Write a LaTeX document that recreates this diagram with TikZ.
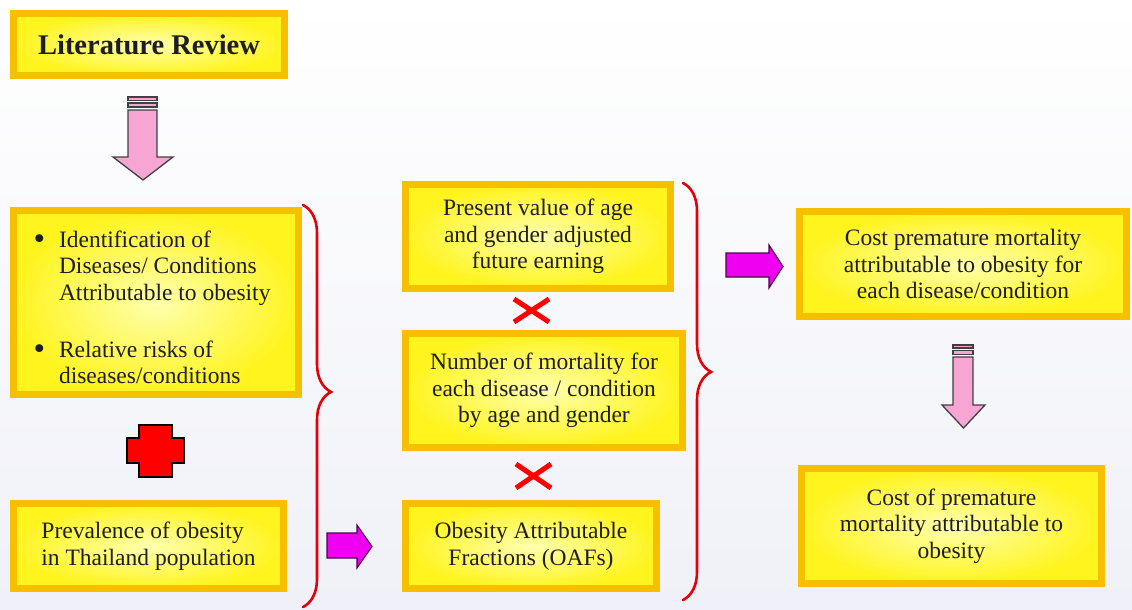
\documentclass[tikz,border=0pt]{standalone}
\usepackage{fontspec}
\setmainfont{Liberation Serif}
\usetikzlibrary{decorations.pathreplacing}
\definecolor{boxgold}{RGB}{246,192,0}
\definecolor{boxyellow}{RGB}{255,244,30}
\definecolor{boxlight}{RGB}{255,255,175}
\definecolor{arrowpink}{RGB}{247,166,212}
\definecolor{arrowmagenta}{RGB}{240,0,240}
\definecolor{braceRed}{RGB}{226,0,10}
\definecolor{textdark}{RGB}{30,30,30}
\definecolor{bgbottom}{RGB}{240,241,248}
\tikzset{every picture/.style={line width=0.9pt}}
\tikzset{
  yelbox/.style={draw=boxgold, line width=7pt, inner color=boxlight, outer color=boxyellow,
    text=textdark, inner sep=0pt, align=center, font=\fontsize{23.5}{26.7}\selectfont},
  pinkarrow/.style={draw=black!75, fill=arrowpink, line width=1.3pt},
  magarrow/.style={draw=violet!60!black, fill=arrowmagenta, line width=1.1pt},
  crossmark/.style={draw=red, line width=5pt},
  redbrace/.style={draw=braceRed, line width=2.6pt, line cap=round, decorate,
    decoration={brace, amplitude=28pt}}
}

\begin{document}
\begin{tikzpicture}[x=1pt,y=1pt,yscale=-1]
\useasboundingbox (0,0) rectangle (1132,610);
% Background
\shade[top color=white, bottom color=bgbottom] (0,0) rectangle (1132,610);

% Text Node
\node[yelbox, minimum width=271, minimum height=62, font=\fontsize{28.5}{32}\selectfont\bfseries] (litrev) at (149,44.5) {Literature Review};
% Text Node
\node[yelbox, minimum width=285, minimum height=184] (ident) at (156,302.5) {\begin{tabular}{@{}l@{\hspace{14pt}}l@{\hspace{8pt}}}
\rule{0pt}{34pt}\raisebox{-2pt}{\scalebox{1.4}{\textbullet}} & Identification of\\
 & Diseases/ Conditions\\
 & Attributable to obesity\\[30pt]
\raisebox{-2pt}{\scalebox{1.4}{\textbullet}} & Relative risks of\\
 & diseases/conditions
\end{tabular}};
% Text Node
\node[yelbox, minimum width=270, minimum height=85, align=left] (preval) at (148.5,546) {Prevalence of obesity\\in Thailand population};
% Text Node
\node[yelbox, minimum width=265, minimum height=104] (presval) at (538,236.5) {Present value of age\\and gender adjusted\\future earning};
% Text Node
\node[yelbox, minimum width=277, minimum height=114] (mortnum) at (544,390.5) {Number of mortality for\\each disease / condition\\by age and gender};
% Text Node
\node[yelbox, minimum width=251, minimum height=85] (oafs) at (531,546) {Obesity Attributable\\Fractions (OAFs)};
% Text Node
\node[yelbox, minimum width=327, minimum height=105] (costeach) at (963,264) {Cost premature mortality\\attributable to obesity for\\each disease/condition};
% Text Node
\node[yelbox, minimum width=300, minimum height=115] (costall) at (951.5,526) {Cost of premature\\mortality attributable to\\obesity};

%Shape: Down Arrow
\draw[pinkarrow] (128,110) -- (157,110) -- (157,157) -- (173,157) -- (143,180) -- (113,157) -- (128,157) -- cycle;
\draw[pinkarrow] (128,97) rectangle (157,100.5);
\draw[pinkarrow] (128,103) rectangle (157,107);
%Shape: Down Arrow
\draw[pinkarrow] (953,357) -- (973,357) -- (973,405) -- (985,405) -- (963.5,428) -- (942,405) -- (953,405) -- cycle;
\draw[pinkarrow] (953,345) rectangle (973,348);
\draw[pinkarrow] (953,350.5) rectangle (973,354.5);

%Shape: Right Arrow
\draw[magarrow] (726,253) -- (769,253) -- (769,245) -- (783,266.5) -- (769,288) -- (769,277) -- (726,277) -- cycle;
%Shape: Right Arrow
\draw[magarrow] (327,533) -- (357,533) -- (357,525) -- (372,546.5) -- (357,568) -- (357,558) -- (327,558) -- cycle;

%Shape: Cross
\draw[fill=red, draw=black, line width=1.5pt] (139,425) -- (172,425) -- (172,438) -- (184,438) -- (184,463) -- (172,463) -- (172,477) -- (139,477) -- (139,463) -- (127,463) -- (127,438) -- (139,438) -- cycle;

%Times marks
\draw[crossmark] (514,299) -- (549,322) (514,322) -- (549,299);
\draw[crossmark] (516,464) -- (551,488) (516,488) -- (551,464);

%Braces
\draw[redbrace, decoration={aspect=0.465}] (303,205) -- (303,607);
\draw[redbrace, decoration={aspect=0.453}] (683,183) -- (683,600);
\end{tikzpicture}
\end{document}
